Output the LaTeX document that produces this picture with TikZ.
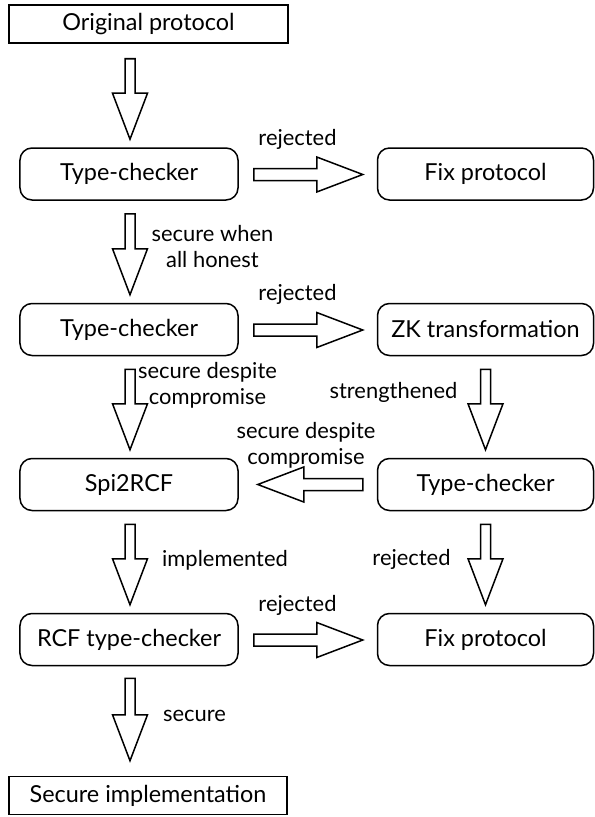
\documentclass[tikz,border=0pt]{standalone}
\usepackage{fontspec}
\setmainfont{Lato}
\usetikzlibrary{calc}
\newcommand\blkdown[2]{\draw[blk] ($(#1)+(-5,0)$) -- ($(#1)+(5,0)$) -- ($(#2)+(5,-46)$) -- ($(#2)+(17.5,-46)$) -- (#2) -- ($(#2)+(-17.5,-46)$) -- ($(#2)+(-5,-46)$) -- cycle;}
\newcommand\blkright[2]{\draw[blk] ($(#1)+(0,-6)$) -- ($(#2)+(-46,-6)$) -- ($(#2)+(-46,-17.5)$) -- (#2) -- ($(#2)+(-46,17.5)$) -- ($(#2)+(-46,6)$) -- ($(#1)+(0,6)$) -- cycle;}
\newcommand\blkleft[2]{\draw[blk] ($(#1)+(0,-6)$) -- ($(#2)+(46,-6)$) -- ($(#2)+(46,-17.5)$) -- (#2) -- ($(#2)+(46,17.5)$) -- ($(#2)+(46,6)$) -- ($(#1)+(0,6)$) -- cycle;}
\begin{document}
\begin{tikzpicture}[x=1bp,y=-1bp,
  every node/.style={font=\fontsize{23.5}{28}\selectfont, inner sep=0pt},
  rbox/.style={draw, line width=1.5bp, rounded corners=12bp, minimum height=52bp},
  lcol/.style={rbox, minimum width=218bp},
  rcol/.style={rbox, minimum width=216bp},
  sbox/.style={draw, line width=1.5bp, minimum height=38bp},
  lbl/.style={anchor=base, align=center, font=\fontsize{22}{26}\selectfont},
  blk/.style={draw, line width=1.5bp, fill=white, line join=miter}]
\useasboundingbox (0,0) rectangle (595,817);
\node[sbox, minimum width=279bp] (orig) at (148.5,24) {Original protocol};
\node[lcol] (tc1) at (129,174) {Type-checker};
\node[rcol] (fix1) at (485.5,174) {Fix protocol};
\node[lcol] (tc2) at (129,329.5) {Type-checker};
\node[rcol] (zk) at (485.5,329.5) {ZK transformation};
\node[lcol] (spi) at (129,484.5) {Spi2RCF};
\node[rcol] (tc3) at (485.5,484.5) {Type-checker};
\node[lcol] (rcf) at (129,639.5) {RCF type-checker};
\node[rcol] (fix2) at (485.5,639.5) {Fix protocol};
\node[sbox, minimum width=278bp] (impl) at (148,795.5) {Secure implementation};
% arrow end points
\coordinate (s1) at ($(orig.south -| tc1.north)+(1,15)$);
\coordinate (t1) at ($(tc1.north)+(1,-8)$);
\coordinate (s2) at ($(tc1.south)+(1,13)$);
\coordinate (t2) at ($(tc2.north)+(1,-8)$);
\coordinate (s3) at ($(tc2.south)+(1,13)$);
\coordinate (t3) at ($(spi.north)+(1,-8)$);
\coordinate (s4) at ($(spi.south)+(1,13)$);
\coordinate (t4) at ($(rcf.north)+(1,-8)$);
\coordinate (s5) at ($(rcf.south)+(1,12)$);
\coordinate (t5) at ($(impl.north -| rcf.south)+(1,-15)$);
\coordinate (s6) at ($(zk.south)+(0,13)$);
\coordinate (t6) at ($(tc3.north)+(0,-8)$);
\coordinate (s7) at ($(tc3.south)+(0,13)$);
\coordinate (t7) at ($(fix2.north)+(0,-8)$);
\coordinate (h1s) at ($(tc1.east)+(15,0.5)$);
\coordinate (h1t) at ($(fix1.west)+(-14,0.5)$);
\coordinate (h2s) at ($(tc2.east)+(15,0.5)$);
\coordinate (h2t) at ($(zk.west)+(-14,0.5)$);
\coordinate (h3s) at ($(tc3.west)+(-14,0)$);
\coordinate (h3t) at ($(spi.east)+(19,0)$);
\coordinate (h4s) at ($(rcf.east)+(15,0.5)$);
\coordinate (h4t) at ($(fix2.west)+(-14,0.5)$);
\blkdown{s1}{t1}
\blkdown{s2}{t2}
\blkdown{s3}{t3}
\blkdown{s4}{t4}
\blkdown{s5}{t5}
\blkdown{s6}{t6}
\blkdown{s7}{t7}
\blkright{h1s}{h1t}
\blkright{h2s}{h2t}
\blkleft{h3s}{h3t}
\blkright{h4s}{h4t}
% labels
\node[lbl] (l1) at (297.5,145) {rejected};
\node[lbl] (l2) at (212.5,267) {secure when\\all honest};
\node[lbl] (l3) at (297.5,300.5) {rejected};
\node[lbl] (l4) at (207.5,404) {secure despite\\compromise};
\node[lbl] (l5) at (393.5,398) {strengthened};
\node[lbl] (l6) at (306,464) {secure despite\\compromise};
\node[lbl] (l7) at (225,566) {implemented};
\node[lbl] (l8) at (411.5,565) {rejected};
\node[lbl] (l9) at (297.5,611.5) {rejected};
\node[lbl] (l10) at (194.5,721) {secure};
\end{tikzpicture}
\end{document}
